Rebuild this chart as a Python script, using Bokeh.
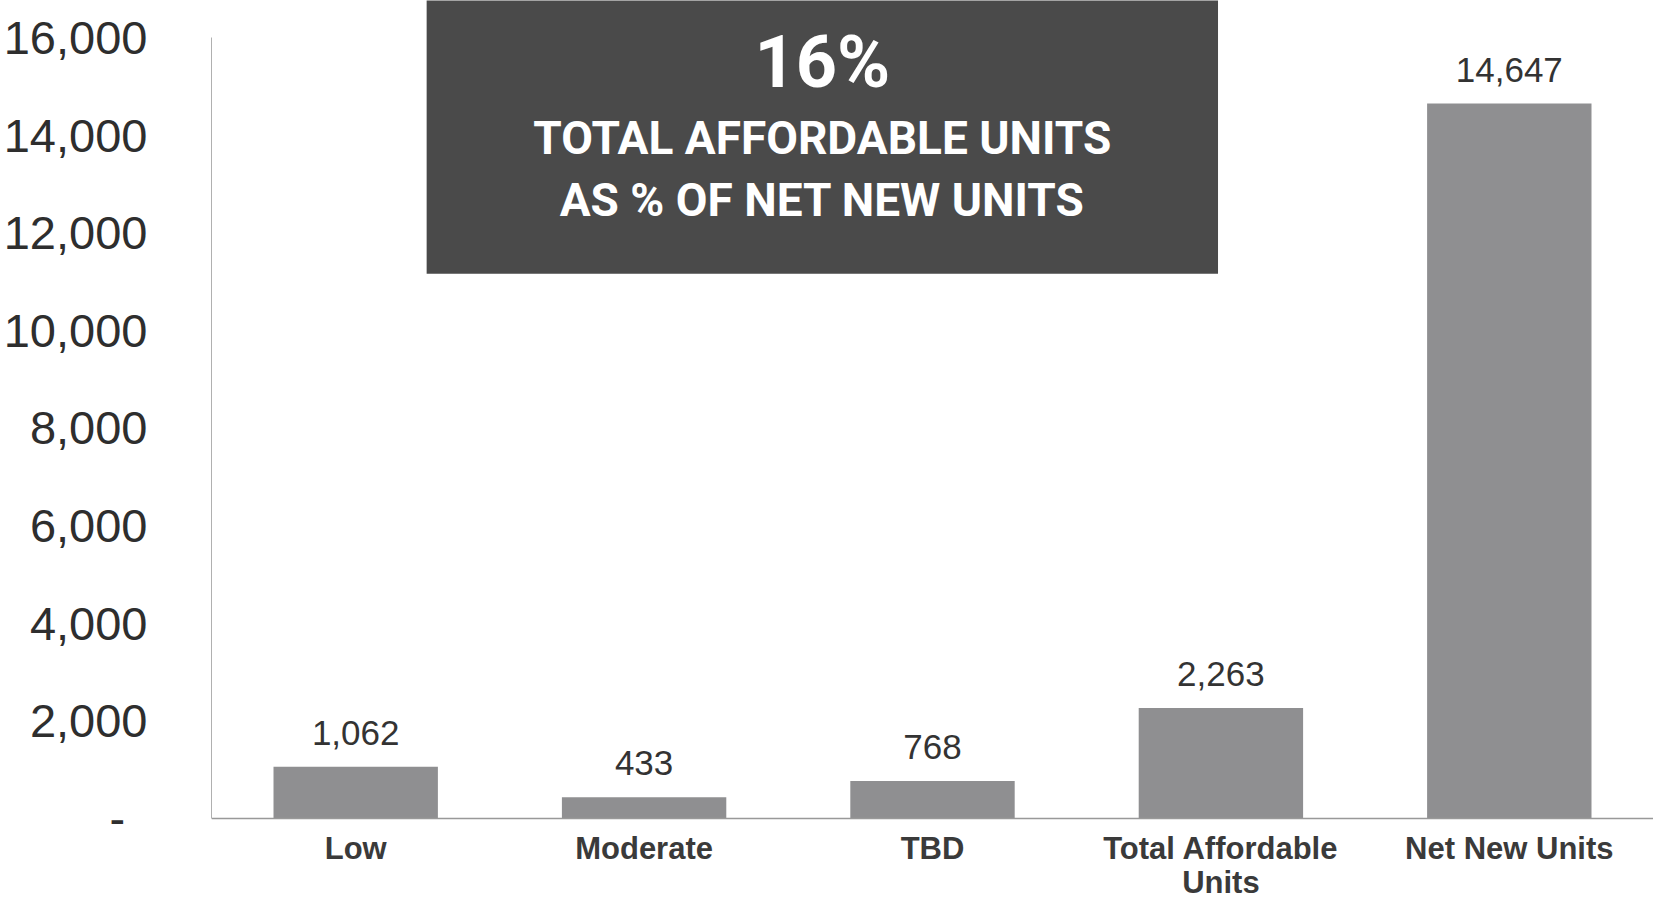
from bokeh.plotting import figure
from bokeh.models import (ColumnDataSource, LabelSet, Label, BoxAnnotation, FixedTicker,
                          NumeralTickFormatter, CustomJSTickFormatter)
from bokeh.core.properties import value
from bokeh.embed import file_html
from bokeh.resources import INLINE

# ---- data ----
categories = ["Low", "Moderate", "TBD", "Total Affordable Units", "Net New Units"]
units = [1062, 433, 768, 2263, 14647]
y_ticks = [0, 2000, 4000, 6000, 8000, 10000, 12000, 14000, 16000]
wrapped_category = "Total Affordable Units"
wrapped_label = "Total Affordable\nUnits"
callout_value = "16%"
callout_lines = ["TOTAL AFFORDABLE UNITS", "AS % OF NET NEW UNITS"]

value_labels = [f"{v:,}" for v in units]
src = ColumnDataSource(dict(cat=categories, units=units, lab=value_labels))

NUM_FONT = "Liberation Sans"
CALLOUT_FONT = "Roboto"

# the frame runs down to the canvas bottom; the x axis sits at y = 0 inside it
p = figure(x_range=categories, y_range=(-1721, 16758), width=1653, height=902,
           output_backend="svg", toolbar_location=None,
           min_border_left=0, min_border_right=0, min_border_top=0, min_border_bottom=0)
p.x_range.range_padding = 0
p.outline_line_color = None
p.background_fill_color = "white"
p.border_fill_color = "white"
p.xgrid.grid_line_color = None
p.ygrid.grid_line_color = None

p.vbar(x="cat", top="units", bottom=0, width=0.57, source=src, fill_color="#8f8f91", line_color=None)

labels = LabelSet(x="cat", y="units", text="lab", source=src, text_align="center",
                  text_baseline="alphabetic", y_offset=22, text_font=value(NUM_FONT),
                  text_font_size=value("35px"), text_color=value("#333333"))
p.add_layout(labels)

# callout box
box = BoxAnnotation(left=0.746, right=3.49, bottom=11160, top=17500,
                    fill_color="#4a4a4a", fill_alpha=1.0, line_color=None)
p.add_layout(box)
cx = (0.746 + 3.49) / 2
p.add_layout(Label(x=cx, y=15480, text=callout_value, text_align="center", text_baseline="middle",
                   text_font=CALLOUT_FONT, text_font_style="bold", text_font_size="72px", text_color="white"))
p.add_layout(Label(x=cx, y=13950, text=callout_lines[0], text_align="center", text_baseline="middle",
                   text_font=CALLOUT_FONT, text_font_style="bold", text_font_size="46px", text_color="white"))
p.add_layout(Label(x=cx, y=12680, text=callout_lines[1], text_align="center", text_baseline="middle",
                   text_font=CALLOUT_FONT, text_font_style="bold", text_font_size="46px", text_color="white"))

# y axis
p.yaxis.ticker = FixedTicker(ticks=y_ticks)
p.yaxis.formatter = NumeralTickFormatter(format="0,0")
p.yaxis.major_label_overrides = {0: "-\u00a0\u2009"}
p.yaxis.bounds = (0, 16000)
p.yaxis.axis_line_color = "#b0b0b0"
p.yaxis.axis_line_width = 1
p.yaxis.major_tick_line_color = None
p.yaxis.minor_tick_line_color = None
p.yaxis.major_tick_out = 0
p.yaxis.major_label_standoff = 64
p.yaxis.major_label_text_font = NUM_FONT
p.yaxis.major_label_text_font_size = "47px"
p.yaxis.major_label_text_color = "#2e2e2e"

# x axis (category labels, one of them on two lines), fixed at y = 0
xa = p.xaxis[0]
xa.fixed_location = 0
xa.axis_line_color = "#999999"
xa.axis_line_width = 1.5
xa.major_tick_line_color = None
xa.minor_tick_line_color = None
xa.major_tick_out = 0
xa.major_tick_in = 0
xa.major_label_standoff = 13
xa.major_label_text_font = NUM_FONT
xa.major_label_text_font_style = "bold"
xa.major_label_text_font_size = "31px"
xa.major_label_text_color = "#3a3a3a"
xa.major_label_text_line_height = 0.95
xa.formatter = CustomJSTickFormatter(
    args=dict(cat=wrapped_category, wrapped=wrapped_label),
    code="return tick == cat ? wrapped : tick;")

open("out.html", "w").write(file_html(p, INLINE))
